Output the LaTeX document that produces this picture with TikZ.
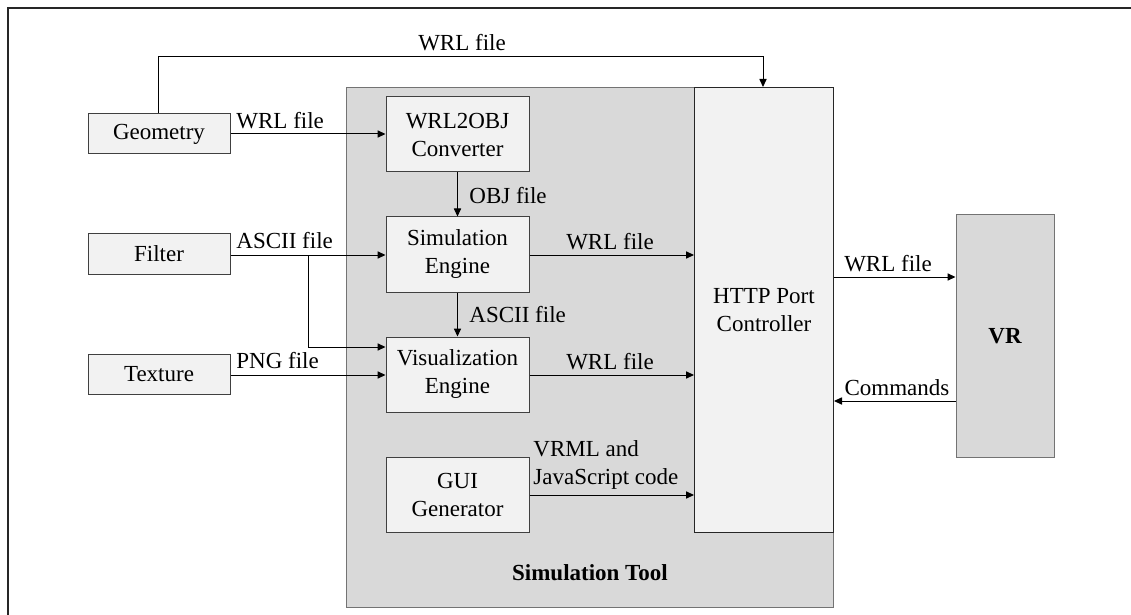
\documentclass[tikz,border=0pt]{standalone}
\usepackage{fontspec}
\setmainfont{Liberation Serif}
\usetikzlibrary{arrows.meta}
\definecolor{lightbox}{HTML}{F2F2F2}
\definecolor{darkbox}{HTML}{D9D9D9}
\definecolor{edgec}{HTML}{404040}
\begin{document}
\begin{tikzpicture}[x=0.5pt,y=-0.5pt,
  font=\fontsize{11.5}{14}\selectfont,
  blk/.style={draw=edgec,line width=0.5pt,fill=lightbox,inner sep=0pt,align=center},
  conn/.style={draw=black,line width=0.5pt,-{Triangle[length=4pt,width=3.6pt]}},
  lbl/.style={inner sep=0pt,align=left}]
\useasboundingbox (0,0) rectangle (1131,615);
% outer frame (top and left visible)
\draw[line width=1pt,color=black!85] (8,640) -- (8,8) -- (1140,8);
% simulation tool
\node[draw=black!55,line width=0.5pt,fill=darkbox,minimum width=243.5pt,minimum height=260pt,inner sep=0pt,anchor=north west] (sim) at (346,87) {};
\node[font=\fontsize{11.5}{14}\selectfont\bfseries] (simlbl) at (590,573) {Simulation Tool};
% HTTP
\node[blk,draw=black!85,minimum width=69.5pt,minimum height=222.5pt,anchor=north west] (http) at (694,87) {HTTP Port\\Controller};
% inner blocks
\node[blk,minimum width=71.5pt,minimum height=37.5pt] (w2o) at (457.5,134.5) {WRL2OBJ\\Converter};
\node[blk,minimum width=71.5pt,minimum height=37.5pt] (se) at (457.5,254.5) {Simulation\\Engine};
\node[blk,minimum width=71.5pt,minimum height=37.5pt] (ve) at (457.5,374.5) {Visualization\\Engine};
\node[blk,minimum width=71.5pt,minimum height=37.5pt] (gui) at (457.5,494.5) {GUI\\Generator};
% inputs
\node[blk,minimum width=71pt,minimum height=20pt] (geo) at (159,134) {Geometry};
\node[blk,minimum width=71pt,minimum height=20pt] (fil) at (159,254) {Filter};
\node[blk,minimum width=71pt,minimum height=20pt] (tex) at (159,374.5) {Texture};
% VR
\node[blk,fill=darkbox,draw=black!55,minimum width=49pt,minimum height=121pt,font=\fontsize{11.5}{14}\selectfont\bfseries] (vr) at (1005,336) {VR};
% connectors
\coordinate (topL) at (158,57);
\coordinate (topR) at (763,57);
\draw[conn] (geo.north -| topL) -- (topL) -- (topR) -- (topR |- http.north);
\node[lbl] (l0) at (462,43) {WRL file};
\draw[conn] (geo.east) -- (w2o.west |- geo.east);
\node[lbl,anchor=south west] (l1) at (236,129) {WRL file};
\draw[conn] (w2o.south) -- (se.north);
\node[lbl,anchor=west] (l2) at (469,196) {OBJ file};
\coordinate (br) at (308,255);
\draw[conn] (fil.east |- br) -- (se.west |- br);
\node[lbl,anchor=south west] (l3) at (236,249) {ASCII file};
\draw[conn] (br) -- (308,347) -- (ve.west |- 0,347);
\draw[conn] (se.south) -- (ve.north);
\node[lbl,anchor=west] (l4) at (469,315) {ASCII file};
\draw[conn] (tex.east |- 0,375) -- (ve.west |- 0,375);
\node[lbl,anchor=south west] (l5) at (236,369) {PNG file};
\draw[conn] (se.east |- br) -- (http.west |- br);
\node[lbl] (l6) at (610,242) {WRL file};
\draw[conn] (ve.east |- 0,375) -- (http.west |- 0,375);
\node[lbl] (l7) at (610,362) {WRL file};
\draw[conn] (gui.east |- 0,495) -- (http.west |- 0,495);
\node[lbl,anchor=south west] (l8) at (533,490) {VRML and\\JavaScript code};
\draw[conn] (http.east |- 0,277) -- (vr.west |- 0,277);
\node[lbl] (l9) at (888,264) {WRL file};
\draw[conn] (vr.west |- 0,401) -- (http.east |- 0,401);
\node[lbl] (l10) at (897,388) {Commands};
\end{tikzpicture}
\end{document}
